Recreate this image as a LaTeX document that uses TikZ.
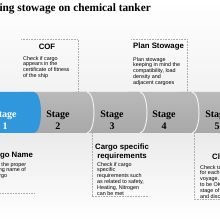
\documentclass[tikz,border=0pt]{standalone}
\usepackage{fontspec}
\setmainfont{Liberation Serif}
\setsansfont{Liberation Sans}
\definecolor{pipeblue}{HTML}{5CB9EE}
\definecolor{pipedark}{HTML}{3197DC}
\begin{document}
\begin{tikzpicture}[x=1pt,y=1pt,
    edge/.style={draw=gray!65, line width=0.5pt, dash pattern=on 0.8pt off 0.8pt},
    head/.style={font=\sffamily\bfseries\fontsize{7.8}{8.6}\selectfont, inner sep=0pt, align=center},
    body/.style={font=\sffamily\fontsize{5.4}{5.8}\selectfont, inner sep=0pt, align=left, anchor=north west},
    stagelabel/.style={font=\bfseries\fontsize{10}{12}\selectfont, inner sep=0pt, align=center}]
    \useasboundingbox (0,0) rectangle (220,220);
    \clip (0,0) rectangle (220,220);
    % background
    \shade[top color=white, bottom color=gray!10] (0,128) rectangle (220,220);
    \shade[top color=gray!16, bottom color=white] (0,0) rectangle (220,87);
    % pipe, right to left
    \foreach \xa/\xb in {192/260, 140/192, 87/140, 34/87}
      \shade[top color=gray!55, middle color=gray!22, bottom color=gray!68]
        (\xa-12,128) -- (\xb,128) arc[start angle=90, end angle=-90, x radius=7, y radius=20.5]
        -- (\xa-12,87) -- cycle;
    \foreach \xb in {87, 140, 192}
      \draw[white, line width=1pt, opacity=0.8] (\xb,128) arc[start angle=90, end angle=-90, x radius=7, y radius=20.5];
    \shade[top color=pipedark, middle color=pipeblue, bottom color=pipedark]
      (-20,128) -- (34,128) arc[start angle=90, end angle=-90, x radius=7, y radius=20.5]
      -- (-20,87) -- cycle;
    % stages
    \node[stagelabel, white] (s1) at (5,100) {Stage\\1};
    \node[stagelabel] (s2) at (58,100) {Stage\\2};
    \node[stagelabel] (s3) at (112,100) {Stage\\3};
    \node[stagelabel] (s4) at (164,100) {Stage\\4};
    \node[stagelabel] (s5) at (217,100) {Stage\\5};
    % title
    \node[font=\bfseries\fontsize{11.3}{13}\selectfont, inner sep=0pt, anchor=base east] (title) at (151,208) {Checking stowage on chemical tanker};
    % callouts above
    \draw[edge] (21,181) -- (78,181) -- (78,128);
    \node[head] (cof) at (47,173) {COF};
    \node[body] (cofbody) at (23,164) {Check if cargo\\appears in the\\certificate of fitness\\of the ship};
    \draw[edge] (131,181) -- (187,181) -- (187,128);
    \node[head] (plan) at (158.5,173) {Plan Stowage};
    \node[body] (planbody) at (133,163) {Plan stowage\\keeping in mind the\\compatibility, load\\density and\\adjacent cargoes};
    % callouts below
    \draw[edge] (-15,87) -- (-15,27) -- (35,27);
    \node[head] (name) at (10,64) {Cargo Name};
    \node[body] (namebody) at (-15.5,58) {Check the proper\\shipping name of\\the cargo};
    \draw[edge] (92,87) -- (92,24) -- (149,24);
    \node[head] (spec) at (122,68) {Cargo specific\\requirements};
    \node[body] (specbody) at (97,58) {Check if cargo\\specific\\requirements such\\as related to safety,\\Heating, Nitrogen\\can be met};
    \draw[edge] (194,87) -- (194,21) -- (230,21);
    \node[head, anchor=west] (clean) at (212,62) {Cleaning};
    \node[body] (cleanbody) at (200,55) {Check tanks\\for each\\voyage. Tanks\\to be OK at\\stage of loading\\and discharge};
\end{tikzpicture}
\end{document}
